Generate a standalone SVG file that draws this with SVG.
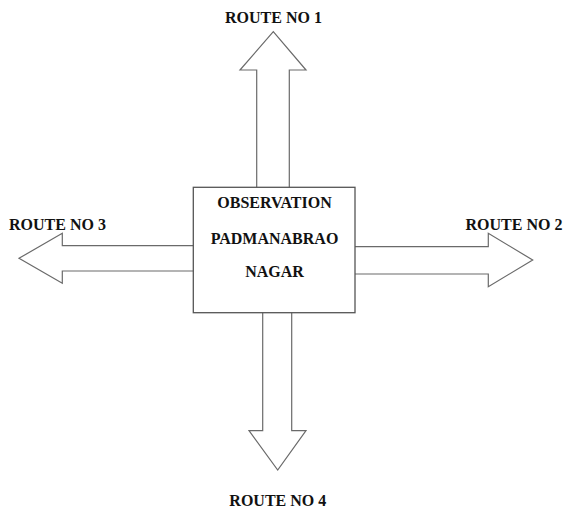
<svg xmlns="http://www.w3.org/2000/svg" width="567" height="512" viewBox="0 0 567 512">
<style>
.arrow{fill:#fff;stroke:#6a6a6a;stroke-width:1.2;stroke-linejoin:miter}
.box{fill:#fff;stroke:#555;stroke-width:1.3}
text{font-family:"Liberation Serif","Times New Roman",serif;font-weight:bold;font-size:16px;fill:#111}
</style>
<rect width="567" height="512" fill="#fff"/>
<g id="connectors">
<polygon id="arrow1" class="arrow" points="256.7,190 256.7,70 240,70 273.3,31.7 306,70 289.3,70 289.3,190"/>
<polygon id="arrow3" class="arrow" points="195,245.7 62.3,245.7 62.3,233.3 19,258.3 62.3,283.3 62.3,271 195,271"/>
<polygon id="arrow2" class="arrow" points="353,246.7 488.3,246.7 488.3,233.3 532.7,260 488.3,286.7 488.3,274 353,274"/>
<polygon id="arrow4" class="arrow" points="262.7,310 262.7,430.7 249,430.7 277.7,470 306,430.7 291.7,430.7 291.7,310"/>
</g>
<g id="node-observation">
<rect class="box" x="193.3" y="187.3" width="161.7" height="125.4"/>
<text x="274.5" y="208" text-anchor="middle">OBSERVATION</text>
<text x="274.5" y="243.5" text-anchor="middle">PADMANABRAO</text>
<text x="274.5" y="277" text-anchor="middle">NAGAR</text>
</g>
<g id="label-route1"><text x="273.5" y="23" text-anchor="middle">ROUTE NO 1</text></g>
<g id="label-route2"><text x="514" y="229.5" text-anchor="middle">ROUTE NO 2</text></g>
<g id="label-route3"><text x="57.5" y="230" text-anchor="middle">ROUTE NO 3</text></g>
<g id="label-route4"><text x="277.8" y="506" text-anchor="middle">ROUTE NO 4</text></g>
</svg>
